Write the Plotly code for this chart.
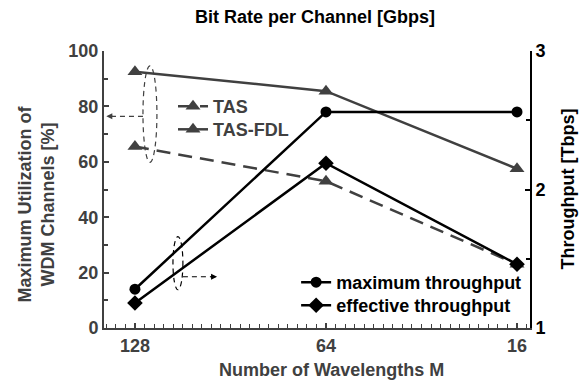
import plotly.graph_objects as go

# ---- data ----
wavelengths = ["128", "64", "16"]
bit_rates = ["2.5", "10", "40"]
x_pos = [0, 1, 2]
tas_fdl = [92.5, 85.5, 57.5]
tas = [65.5, 53, 23]
max_throughput = [1.28, 2.56, 2.56]
eff_throughput = [1.18, 2.19, 1.46]

GRAY = "#404040"
BLACK = "#000000"
FONT = "Liberation Sans, Arial, sans-serif"
FS = 18

fig = go.Figure()

fig.add_trace(go.Scatter(
    x=x_pos, y=tas, name="TAS", mode="lines+markers", showlegend=True,
    line=dict(color=GRAY, width=2.5, dash="14px,8px"),
    marker=dict(symbol="triangle-up", size=13, color=GRAY),
    xaxis="x", yaxis="y", legend="legend"))
fig.add_trace(go.Scatter(
    x=x_pos, y=tas_fdl, name="TAS-FDL", mode="lines+markers", showlegend=True,
    line=dict(color=GRAY, width=2.5),
    marker=dict(symbol="triangle-up", size=13, color=GRAY),
    xaxis="x", yaxis="y", legend="legend2"))
fig.add_trace(go.Scatter(
    x=x_pos, y=max_throughput, name="maximum throughput", mode="lines+markers",
    showlegend=True,
    line=dict(color=BLACK, width=2.5),
    marker=dict(symbol="circle", size=11, color=BLACK),
    xaxis="x", yaxis="y2", legend="legend3"))
fig.add_trace(go.Scatter(
    x=x_pos, y=eff_throughput, name="effective throughput", mode="lines+markers",
    showlegend=True,
    line=dict(color=BLACK, width=2.5),
    marker=dict(symbol="diamond", size=12, color=BLACK),
    xaxis="x", yaxis="y2", legend="legend4"))

XR = [-0.162, 2.068]


def xminor(col):
    return dict(tickmode="linear", ticks="inside", ticklen=4, dtick=0.05, tick0=0,
                tickcolor=col, tickwidth=1.2)


def leg(x, y, col):
    return dict(x=x, y=y, xanchor="left", yanchor="top", visible=True,
                bgcolor="rgba(0,0,0,0)", borderwidth=0,
                font=dict(family=FONT, size=FS, color=col, weight="bold"))


fig.update_layout(
    width=581, height=383,
    margin=dict(l=104, r=51, t=51, b=55),
    showlegend=True,
    paper_bgcolor="white", plot_bgcolor="white",
    font=dict(family=FONT, size=FS, color=BLACK),
    xaxis=dict(range=XR, tickmode="array", tickvals=x_pos, ticktext=wavelengths,
               automargin=False,
               showgrid=False, zeroline=False, showline=True,
               linecolor=GRAY, linewidth=2, ticks="inside", ticklen=5,
               tickwidth=1.5, tickcolor=GRAY,
               tickfont=dict(family=FONT, size=FS, color=GRAY, weight="bold"),
               minor=xminor(GRAY)),
    xaxis2=dict(range=XR, tickmode="array", tickvals=x_pos, ticktext=bit_rates,
                overlaying="x", side="top", anchor="y", automargin=False,
                showgrid=False, zeroline=False, showline=True,
                linecolor=BLACK, linewidth=2, ticks="inside", ticklen=5,
                tickwidth=1.5, tickcolor=BLACK,
                tickfont=dict(family=FONT, size=FS, color=BLACK, weight="bold"),
                minor=xminor(BLACK)),
    yaxis=dict(range=[0, 100], tickmode="linear", tick0=0, dtick=20, automargin=False,
               showgrid=False, zeroline=False, showline=True,
               linecolor=GRAY, linewidth=2, ticks="inside", ticklen=5,
               tickwidth=1.5, tickcolor=GRAY,
               tickfont=dict(family=FONT, size=FS, color=GRAY, weight="bold"),
               minor=dict(tickmode="linear", ticks="inside", ticklen=4, dtick=10, tick0=0,
                          tickcolor=GRAY, tickwidth=1.5)),
    yaxis2=dict(range=[1, 3], tickmode="linear", tick0=1, dtick=1,
                overlaying="y", side="right", automargin=False,
                showgrid=False, zeroline=False, showline=True,
                linecolor=BLACK, linewidth=2, ticks="inside", ticklen=5,
                tickwidth=1.5, tickcolor=BLACK,
                tickfont=dict(family=FONT, size=FS, color=BLACK, weight="bold"),
                minor=dict(tickmode="linear", ticks="inside", ticklen=4, dtick=0.5, tick0=1,
                           tickcolor=BLACK, tickwidth=1.5)),
    legend=leg(0.162, 0.866, GRAY),
    legend2=leg(0.162, 0.783, GRAY),
    legend3=leg(0.451, 0.231, BLACK),
    legend4=leg(0.451, 0.148, BLACK),
)

# axis titles as annotations
fig.add_annotation(text="Bit Rate per Channel [Gbps]", xref="paper", yref="paper",
                   x=0.495, y=1.0, xanchor="center", yanchor="middle", yshift=34,
                   showarrow=False,
                   font=dict(family=FONT, size=FS, color=BLACK, weight="bold"))
fig.add_annotation(text="Number of Wavelengths M", xref="paper", yref="paper",
                   x=0.535, y=0.0, xanchor="center", yanchor="middle", yshift=-42,
                   showarrow=False,
                   font=dict(family=FONT, size=FS, color=GRAY, weight="bold"))
fig.add_annotation(text="Maximum Utilization of<br>WDM Channels [%]", xref="paper", yref="paper",
                   x=0.0, xanchor="center", xshift=-68, y=0.5, yanchor="middle", yshift=-15,
                   showarrow=False, textangle=-90,
                   font=dict(family=FONT, size=FS, color=GRAY, weight="bold"))
fig.add_annotation(text="Throughput [Tbps]", xref="paper", yref="paper",
                   x=1.0, xanchor="center", xshift=37, y=0.5, yanchor="middle",
                   showarrow=False, textangle=-90,
                   font=dict(family=FONT, size=FS, color=BLACK, weight="bold"))

# dashed ellipses and arrows
fig.add_shape(type="circle", xref="x", yref="y", x0=0.042, x1=0.115, y0=59.8, y1=94.6,
              line=dict(color=GRAY, width=1.2, dash="5px,4px"))
fig.add_shape(type="line", xref="x", yref="y", x0=0.042, x1=-0.13, y0=76.4, y1=76.4,
              line=dict(color=GRAY, width=1.2, dash="5px,4px"))
fig.add_annotation(x=-0.15, y=76.4, xref="x", yref="y", ax=8, ay=0, text="",
                   showarrow=True, arrowhead=2, arrowsize=1, arrowwidth=1.2,
                   arrowcolor=GRAY)
fig.add_shape(type="circle", xref="x", yref="y", x0=0.199, x1=0.251, y0=13.8, y1=33,
              line=dict(color=BLACK, width=1.2, dash="5px,4px"))
fig.add_shape(type="line", xref="x", yref="y", x0=0.251, x1=0.41, y0=18.5, y1=18.5,
              line=dict(color=BLACK, width=1.2, dash="5px,4px"))
fig.add_annotation(x=0.43, y=18.5, xref="x", yref="y", ax=-8, ay=0, text="",
                   showarrow=True, arrowhead=2, arrowsize=1, arrowwidth=1.2,
                   arrowcolor=BLACK)

fig.write_html(
    "out.html",
    config={"displayModeBar": False},
    post_script="document.body.style.margin='0';document.body.style.overflow='hidden';",
)
